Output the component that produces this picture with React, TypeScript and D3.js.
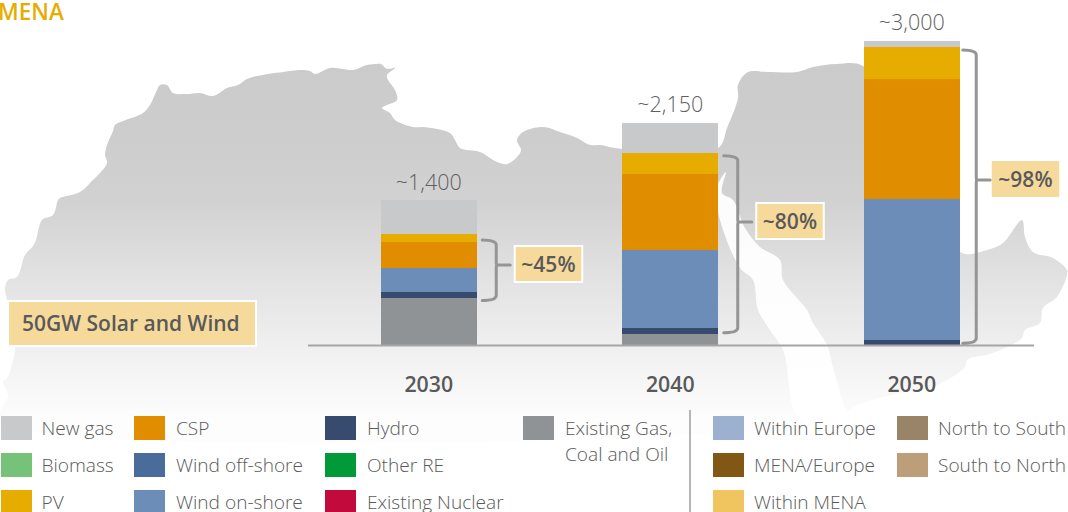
import React from "react";
import * as d3 from "d3";

const years = ["2030", "2040", "2050"];
const totalLabels = ["~1,400", "~2,150", "~3,000"];
const shareLabels = ["~45%", "~80%", "~98%"];
const seriesNames = ["Existing Gas, Coal and Oil", "Hydro", "Wind on-shore", "CSP", "PV", "New gas"];
const existing = [468, 113, 0];
const hydro = [59, 59, 54];
const windOn = [239, 768, 1389];
const csp = [253, 749, 1182];
const pv = [79, 207, 315];
const newGas = [335, 296, 59];
const seriesValues = [existing, hydro, windOn, csp, pv, newGas];
const seriesColors = ["#8F9396", "#364B6E", "#6D8DB9", "#E08E00", "#E6AC00", "#C8C9CB"];

const legendLeft: [string, string][][] = [
  [["New gas", "#C8C9CB"], ["Biomass", "#75C278"], ["PV", "#E6AC00"]],
  [["CSP", "#E08E00"], ["Wind off-shore", "#4A6C9B"], ["Wind on-shore", "#6D8DB9"]],
  [["Hydro", "#364B6E"], ["Other RE", "#009A38"], ["Existing Nuclear", "#C30A3D"]],
  [["Existing Gas,|Coal and Oil", "#8F9396"]],
];
const legendRight: [string, string][][] = [
  [["Within Europe", "#9CB0CF"], ["MENA/Europe", "#825615"], ["Within MENA", "#F0C45E"]],
  [["North to South", "#9A8468"], ["South to North", "#BC9F78"]],
];
const legendLeftX = [1, 134, 325, 523];
const legendRightX = [713, 897];

const mapOutline: [number, number][] = [
  [0, 420], [8, 395], [3, 382], [7, 378], [12, 365], [15, 347], [7, 300], [5, 290], [8, 280], [17, 277], [25, 255], [33, 246], [36, 240], [42, 220],
  [53, 215], [58, 200], [60, 198], [80, 192], [90, 183], [107, 163], [105, 155], [107, 145], [113, 131], [115, 125],
  [123, 121], [143, 113], [150, 105], [157, 90], [160, 85], [167, 85], [173, 93], [187, 94], [200, 93], [213, 96],
  [227, 88], [238, 85], [247, 79], [257, 76], [283, 72], [300, 70], [310, 71], [315, 74], [330, 68], [343, 69],
  [353, 70], [367, 65], [377, 64], [381, 64], [387, 69], [395, 68], [387, 75], [388, 80], [395, 90], [397, 100], [387, 105],
  [382, 108], [390, 113], [395, 120], [413, 127], [423, 127], [450, 133], [455, 140], [460, 148], [480, 152],
  [497, 162], [507, 164], [517, 157], [521, 150], [517, 140], [523, 132], [543, 127], [560, 132], [577, 138],
  [590, 145], [600, 145], [622, 149], [718, 148], [727, 128], [738, 98], [738, 85], [748, 72], [768, 72], [797, 72],
  [813, 67], [837, 64], [863, 66], [900, 120], [960, 252], [987, 250], [1003, 243], [1022, 220], [1025, 237], [1033, 252],
  [1053, 258], [1067, 270], [1067, 275], [1057, 297], [1043, 308], [1040, 323], [1025, 330], [1022, 338], [993, 353],
  [967, 360], [965, 367], [933, 387], [900, 393], [863, 403], [847, 412], [840, 420],
];
const redSea: [number, number][] = [
  [726, 172], [722, 193], [733, 200], [745, 228], [760, 247], [780, 260], [783, 280], [807, 310], [813, 323], [827, 345],
  [833, 367], [843, 403], [847, 420], [800, 420], [783, 350], [770, 330], [758, 310], [753, 280], [740, 268], [720, 220], [716, 190],
];

const W = 1068;
const H = 512;
const TEXT = "#595959";
const FONT = "'Open Sans', sans-serif";
const BOX = "#F6DA9C";
const BRACKET = "#959595";

export default function App() {
  const x = d3.scaleBand<string>().domain(years).range([308, 1032.5]).paddingInner(0.6025).paddingOuter(0.30125);
  const y = d3.scaleLinear().domain([0, 3000]).range([345.5, 41]);
  const rows = years.map((yr, i) => {
    const r: Record<string, any> = { year: yr };
    seriesNames.forEach((n, j) => (r[n] = seriesValues[j][i]));
    return r;
  });
  const stacked = d3.stack<any>().keys(seriesNames)(rows);
  const line = d3.line().curve(d3.curveCatmullRomClosed.alpha(0.5));
  const mapPath = line(mapOutline) as string;
  const seaPath = line(redSea) as string;

  const bracketTop = [240, 155.7, 50];
  const bracketBottom = [300.5, 332.7, 343.3];
  const bracketTip = [265, 222, 180];
  const boxTop = [246, 203, 161];

  return (
    <svg width={W} height={H} style={{ position: "absolute", left: 0, top: 0, display: "block", background: "#fff" }} fontFamily={FONT}>
      <defs>
        <linearGradient id="mapFade" gradientUnits="userSpaceOnUse" x1="0" x2="0" y1="60" y2="420">
          <stop offset="0" stopColor="#CBCBCB" />
          <stop offset="0.22" stopColor="#CDCDCD" />
          <stop offset="0.4" stopColor="#D2D2D2" />
          <stop offset="0.66" stopColor="#E6E6E6" />
          <stop offset="0.85" stopColor="#F3F3F3" />
          <stop offset="1" stopColor="#FDFDFD" />
        </linearGradient>
      </defs>
      <path d={mapPath} fill="url(#mapFade)" />
      <path d={seaPath} fill="#fff" opacity={0.92} />

      <text x={-2} y={20} fontSize={22.5} fontWeight={600} fill="#E6AC00">MENA</text>

      {stacked.map((s, k) => (
        <g key={s.key} fill={seriesColors[k]} shapeRendering="crispEdges">
          {s.map((d, i) =>
            d[1] > d[0] ? (
              <rect key={i} x={x(years[i])} width={x.bandwidth()} y={y(d[1])} height={y(d[0]) - y(d[1])} />
            ) : null
          )}
        </g>
      ))}

      <line x1={308} x2={1034} y1={345.5} y2={345.5} stroke="#A6A6A6" strokeWidth={2} />

      {years.map((yr, i) => {
        const cx = x(yr)! + x.bandwidth() / 2;
        const right = x(yr)! + x.bandwidth();
        const total = d3.sum(seriesValues, (v) => v[i]);
        const bx = right + (i === 2 ? 16.5 : 19.5);
        const t = bracketTop[i];
        const b = bracketBottom[i];
        const m = bracketTip[i];
        const sx = right + (i === 2 ? 3 : 5.5);
        const boxX = right + (i === 2 ? 32 : 38);
        const bt = boxTop[i];
        return (
          <g key={yr}>
            <text x={cx} y={y(total) - (i === 0 ? 10 : 11)} textAnchor="middle" fontSize={21.5} fontWeight={300} fill="#5F5F5F">{totalLabels[i]}</text>
            <text x={cx} y={392} textAnchor="middle" fontSize={21.3} fontWeight={600} fill={TEXT}>{yr}</text>
            <path
              d={`M${sx},${t} Q${bx},${t} ${bx},${t + 5} V${m - 2} Q${bx},${m} ${bx + 2},${m} H${bx + 14} M${bx + 2},${m} Q${bx},${m} ${bx},${m + 2} V${b - 5} Q${bx},${b} ${sx},${b}`}
              fill="none" stroke={BRACKET} strokeWidth={3} strokeLinecap="round"
            />
            <rect x={boxX} y={bt} width={67.5} height={36} fill={BOX} stroke={i === 2 ? "none" : "#fff"} strokeWidth={2} />
            <text x={boxX + 33.7} y={bt + 25.5} textAnchor="middle" fontSize={21} fontWeight={600} fill={TEXT}>{shareLabels[i]}</text>
          </g>
        );
      })}

      <rect x={8} y={301} width={248} height={45} fill={BOX} stroke="#fff" strokeWidth={2} />
      <text x={22} y={331} fontSize={21} fontWeight={600} fill={TEXT}>50GW Solar and Wind</text>

      {[{ cols: legendLeft, xs: legendLeftX }, { cols: legendRight, xs: legendRightX }].map((grp, g) =>
        grp.cols.map((col, c) =>
          col.map(([label, color], r) => {
            const top = 416 + r * 37;
            const tx = grp.xs[c] + (g === 1 ? 41 : c === 0 ? 40.5 : 42);
            return (
              <g key={label}>
                <rect x={grp.xs[c]} y={top} width={30.5} height={24} fill={color} shapeRendering="crispEdges" />
                {label.split("|").map((part, n) => (
                  <text key={n} x={tx} y={top + 18.5 + n * 26} fontSize={19.1} fontWeight={300} fill="#5A5A5A">{part}</text>
                ))}
              </g>
            );
          })
        )
      )}
      <line x1={690} x2={690} y1={410} y2={512} stroke="#B5B5B5" strokeWidth={2} />
    </svg>
  );
}
